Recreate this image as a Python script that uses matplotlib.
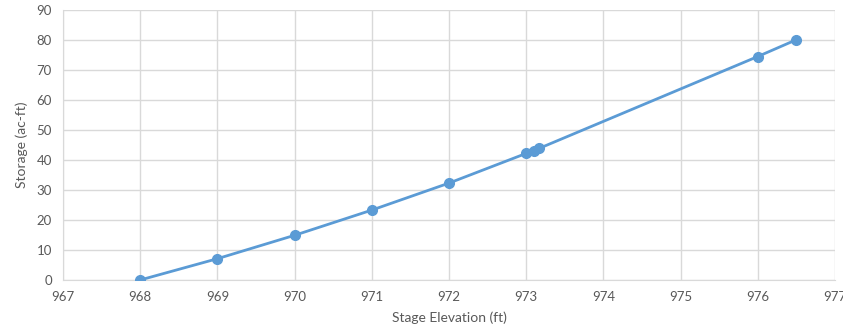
import matplotlib.pyplot as plt

# stage-storage curve
elevation = [968, 969, 970, 971, 972, 973, 973.1, 973.17, 976, 976.5]
storage = [0, 7.1, 14.9, 23.3, 32.3, 42.2, 43.1, 43.9, 74.5, 80.1]

x_ticks = list(range(967, 978))
y_ticks = list(range(0, 100, 10))

plt.rcParams['font.family'] = ['Lato', 'DejaVu Sans']

fig = plt.figure(figsize=(8.43, 3.34), dpi=100)
ax = fig.add_axes([0.0747, 0.1617, 0.9158, 0.8083])

ax.plot(elevation, storage, color='#5b9bd5', linewidth=2, marker='o',
        markersize=7, zorder=3)

ax.set_xlim(967, 977)
ax.set_ylim(0, 90)
ax.set_xticks(x_ticks)
ax.set_yticks(y_ticks)
ax.grid(True, color='#d9d9d9', linewidth=1)
ax.set_axisbelow(True)

for side in ['top', 'right']:
    ax.spines[side].set_visible(False)
for side in ['left', 'bottom']:
    ax.spines[side].set_color('#d9d9d9')
ax.tick_params(length=0, labelsize=9.5, colors='#595959', pad=8)

ax.set_xlabel('Stage Elevation (ft)', fontsize=10, color='#595959', labelpad=6)
ax.set_ylabel('Storage (ac-ft)', fontsize=10, color='#595959', labelpad=6)

fig.savefig('out.png', dpi=100)
